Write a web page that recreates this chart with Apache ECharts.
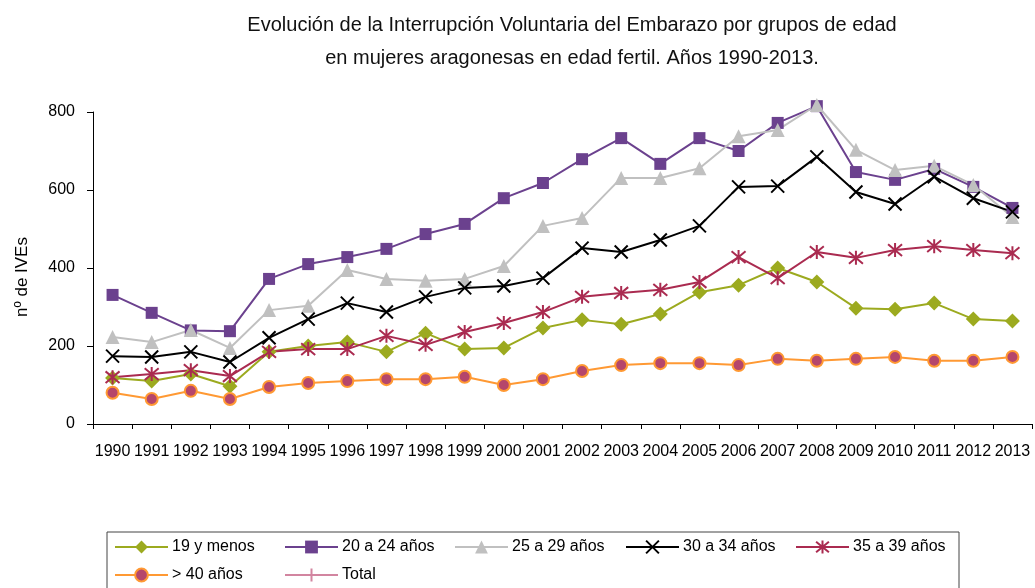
<!DOCTYPE html>
<html>
<head>
<meta charset="utf-8">
<script src="https://cdn.jsdelivr.net/npm/echarts@6/dist/echarts.min.js"></script>
<style>
    html, body { margin: 0; padding: 0; background: #fff; }
    #chart { width: 1035px; height: 588px; }
</style>
</head>
<body>
<div id="chart"></div>
<script>
    // datos
    var years = ['1990', '1991', '1992', '1993', '1994', '1995', '1996', '1997', '1998', '1999', '2000', '2001',
        '2002', '2003', '2004', '2005', '2006', '2007', '2008', '2009', '2010', '2011', '2012', '2013'];
    var menos19 = [118, 110, 128, 97, 185, 200, 210, 185, 233, 192, 195, 246, 267, 256, 282, 338, 356, 400, 364, 297, 294, 310, 269, 264];
    var de20a24 = [331, 285, 240, 238, 372, 410, 428, 449, 487, 513, 579, 618, 679, 733, 667, 733, 700, 772, 815, 646, 626, 654, 608, 554];
    var de25a29 = [223, 210, 241, 195, 292, 303, 395, 372, 367, 372, 405, 508, 528, 631, 631, 656, 738, 754, 818, 703, 651, 662, 613, 531];
    var de30a34 = [174, 172, 185, 159, 221, 269, 310, 287, 326, 349, 354, 374, 451, 441, 472, 508, 608, 610, 685, 595, 564, 634, 579, 544];
    var de35a39 = [120, 128, 138, 123, 185, 192, 192, 226, 203, 236, 259, 287, 326, 336, 344, 364, 428, 374, 441, 426, 446, 456, 446, 438];
    var mas40 = [80, 64, 85, 64, 95, 105, 110, 115, 115, 121, 100, 115, 136, 151, 156, 156, 151, 167, 162, 167, 172, 162, 162, 172];
    var total = []; // fuera de escala, solo aparece en la leyenda
    var yTicks = [0, 200, 400, 600, 800];

    var font = "'Liberation Sans', Arial, sans-serif";
    var symX = 'path://M0,0L10,10M10,0L0,10';
    var symStar = 'path://M0,0L10,10M10,0L0,10M5,-1L5,11';
    var symPlus = 'path://M5,0L5,10M0,5L10,5';

    function serie(name, data, color, symbol, size, extra) {
        var s = {
            name: name,
            type: 'line',
            data: data,
            symbol: symbol,
            symbolSize: size,
            clip: false,
            animation: false,
            lineStyle: { color: color, width: 2 },
            itemStyle: { color: color, borderColor: color, borderWidth: 0 }
        };
        if (extra) {
            for (var k in extra) s[k] = extra[k];
        }
        return s;
    }

    function legendCol(left, names) {
        return {
            orient: 'vertical',
            left: left,
            top: 539,
            itemWidth: 53,
            itemHeight: 16,
            itemGap: 12,
            padding: 0,
            data: names,
            textStyle: { fontFamily: font, fontSize: 16, color: '#000', padding: [0, 0, 0, -1] }
        };
    }

    var option = {
        backgroundColor: '#fff',
        animation: false,
        title: {
            text: 'Evolución de la Interrupción Voluntaria del Embarazo por grupos de edad\nen mujeres aragonesas en edad fertil. Años 1990-2013.',
            left: 572,
            top: 9,
            padding: 0,
            textAlign: 'center',
            textStyle: {
                fontFamily: font,
                fontSize: 20,
                fontWeight: 'normal',
                color: '#111',
                lineHeight: 33
            }
        },
        legend: [
            legendCol(114, ['19 y menos', '> 40 años']),
            legendCol(284, ['20 a 24 años', 'Total']),
            legendCol(454, ['25 a 29 años']),
            legendCol(625, ['30 a 34 años']),
            legendCol(795, ['35 a 39 años'])
        ],
        graphic: [{
            type: 'rect',
            shape: { x: 107, y: 532, width: 852, height: 80 },
            style: { fill: 'none', stroke: '#444', lineWidth: 1 },
            silent: true,
            z: -1
        }],
        grid: {
            left: 93,
            right: 3,
            top: 112,
            bottom: 164
        },
        xAxis: {
            type: 'category',
            data: years,
            boundaryGap: true,
            axisLine: { lineStyle: { color: '#000', width: 1 } },
            axisTick: { show: true, length: 5, lineStyle: { color: '#000' } },
            axisLabel: {
                interval: 0,
                margin: 20,
                fontFamily: font,
                fontSize: 16,
                color: '#000'
            }
        },
        yAxis: {
            type: 'value',
            min: yTicks[0],
            max: yTicks[yTicks.length - 1],
            interval: 200,
            name: 'nº de IVEs',
            nameLocation: 'middle',
            nameGap: 62,
            nameTextStyle: { fontFamily: font, fontSize: 17, color: '#000', padding: [0, 18, 0, 0] },
            axisLine: { show: true, lineStyle: { color: '#000', width: 1 } },
            axisTick: { show: true, length: 6, lineStyle: { color: '#000' } },
            splitLine: { show: false },
            axisLabel: {
                margin: 18,
                fontFamily: font,
                fontSize: 16,
                color: '#000'
            }
        },
        series: [
            serie('19 y menos', menos19, '#9CAA1F', 'diamond', 15),
            serie('20 a 24 años', de20a24, '#6B418E', 'rect', 12),
            serie('25 a 29 años', de25a29, '#C0C0C0', 'triangle', 14),
            serie('30 a 34 años', de30a34, '#000000', symX, 13, {
                itemStyle: { color: '#000', borderColor: '#000', borderWidth: 2 }
            }),
            serie('35 a 39 años', de35a39, '#AA2B50', symStar, 14, {
                itemStyle: { color: '#AA2B50', borderColor: '#AA2B50', borderWidth: 2 }
            }),
            serie('> 40 años', mas40, '#FF9933', 'circle', 12, {
                itemStyle: { color: '#B5466B', borderColor: '#FF9933', borderWidth: 2 }
            }),
            serie('Total', total, '#D285A0', symPlus, 14, {
                itemStyle: { color: '#D285A0', borderColor: '#D285A0', borderWidth: 1.5 }
            })
        ]
    };

    var myChart = echarts.init(document.getElementById('chart'), null, { renderer: 'canvas' });
    myChart.setOption(option);
</script>
</body>
</html>
